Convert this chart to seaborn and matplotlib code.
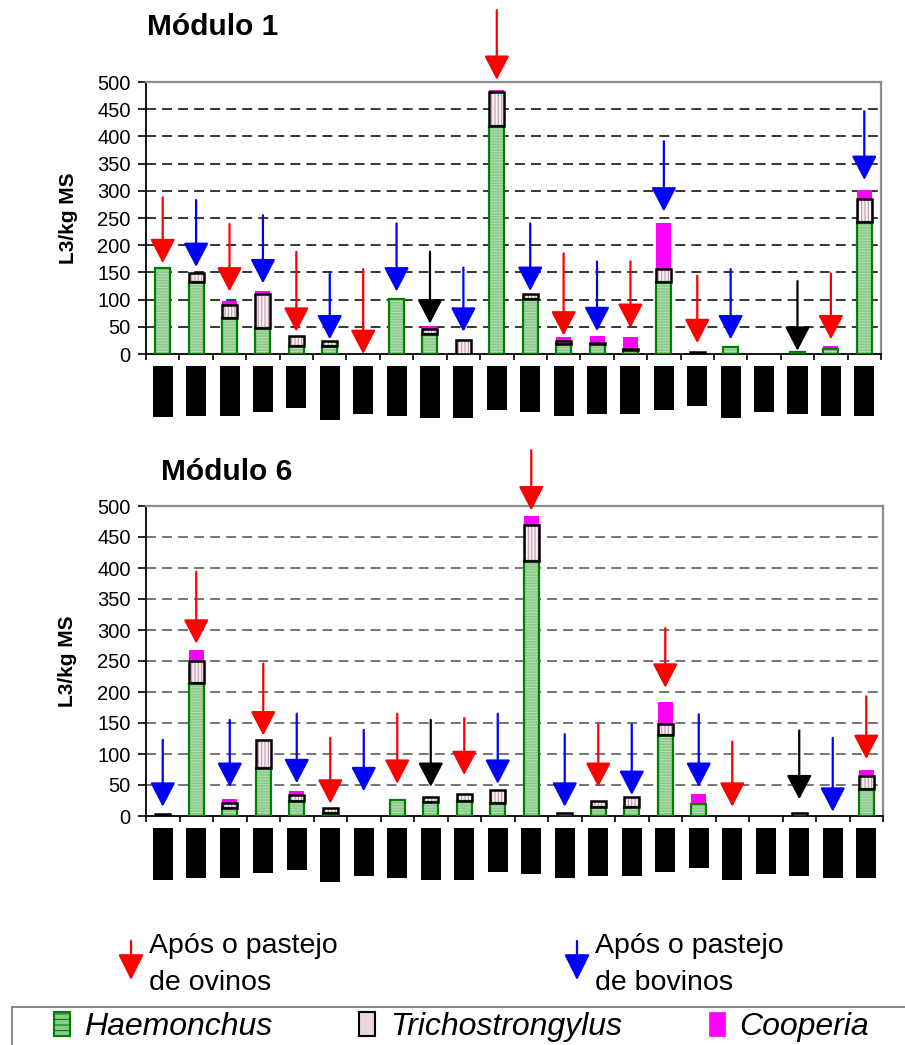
import numpy as np
import pandas as pd
import matplotlib
matplotlib.use("Agg")
import matplotlib.pyplot as plt
import matplotlib.transforms as mtransforms
from matplotlib.patches import Rectangle, Patch, FancyArrowPatch
import seaborn as sns

# ---------------- data ----------------
categories = list(range(22))

# Módulo 1
m1_haemonchus = [159, 132, 66, 48, 14, 14, 0, 101, 37, 0, 420, 102, 18, 18, 7, 132, 0, 12, 0, 4, 9, 243]
m1_trichostrongylus = [0, 16, 24, 62, 20, 9, 0, 0, 9, 26, 61, 8, 5, 2, 2, 24, 4, 0, 0, 0, 0, 42]
m1_cooperia = [0, 0, 7, 6, 0, 0, 0, 0, 6, 0, 5, 0, 8, 14, 22, 84, 0, 0, 0, 0, 6, 17]
m1_arrow_color = ["red", "blue", "red", "blue", "red", "blue", "red", "blue", "black", "blue", "red",
                  "blue", "red", "blue", "red", "blue", "red", "blue", None, "black", "red", "blue"]
m1_arrow_tail = [288, 283, 239, 255, 188, 148, 156, 240, 188, 159, 632,
                 240, 185, 170, 170, 391, 144, 156, None, 134, 148, 446]
m1_arrow_tip = [167, 160, 115, 130, 41, 27, 0, 115, 56, 41, 504,
                116, 34, 42, 48, 262, 20, 27, None, 6, 27, 320]

# Módulo 6
m6_haemonchus = [0, 215, 13, 77, 25, 5, 0, 26, 23, 24, 21, 412, 0, 15, 15, 131, 19, 0, 0, 0, 0, 43]
m6_trichostrongylus = [4, 35, 8, 46, 9, 8, 0, 0, 7, 12, 21, 58, 5, 9, 16, 18, 0, 0, 0, 5, 0, 22]
m6_cooperia = [0, 18, 6, 0, 6, 0, 0, 0, 0, 0, 0, 14, 0, 0, 0, 35, 16, 0, 0, 0, 0, 9]
m6_arrow_color = ["blue", "red", "blue", "red", "blue", "red", "blue", "red", "black", "red", "blue",
                  "red", "blue", "red", "blue", "red", "blue", "red", None, "black", "blue", "red"]
m6_arrow_tail = [123, 394, 155, 246, 165, 126, 139, 165, 155, 158, 165,
                 590, 132, 148, 148, 303, 164, 120, None, 138, 126, 193]
m6_arrow_tip = [15, 278, 47, 130, 53, 20, 40, 52, 47, 66, 52,
                493, 15, 47, 34, 207, 47, 15, None, 27, 7, 92]

yticks = [0, 50, 100, 150, 200, 250, 300, 350, 400, 450, 500]
panel_titles = ["Módulo 1", "Módulo 6"]
ylabel_text = "L3/kg MS"
species_names = ["Haemonchus", "Trichostrongylus", "Cooperia"]
arrow_legend = ["Após o pastejo", "de ovinos", "Após o pastejo", "de bovinos"]

# ---------------- style ----------------
W, H = 905, 1045
FONT = "Liberation Sans"
sns.set_theme(style="white")
plt.rcParams["font.family"] = [FONT, "DejaVu Sans"]
plt.rcParams["text.color"] = "black"
plt.rcParams["axes.labelcolor"] = "black"
plt.rcParams["xtick.color"] = "black"
plt.rcParams["ytick.color"] = "black"
plt.rcParams["hatch.linewidth"] = 0.8

GREEN_FACE = "#8cc98c"
GREEN_HATCH = "#b0dcb0"
GREEN_EDGE = "#008000"
PINK_FACE = "#fbf1f6"
PINK_HATCH = "#c496ac"
MAGENTA = "#ff00ff"
ARROW_COLORS = {"red": "#ff0000", "blue": "#0000ff", "black": "#000000"}

fig = plt.figure(figsize=(W / 100, H / 100), dpi=100)


def px_rect(left, top, right, bottom):
    return [left / W, 1 - bottom / H, (right - left) / W, (bottom - top) / H]


ax1 = fig.add_axes(px_rect(146, 82, 881, 354))
ax2 = fig.add_axes(px_rect(146, 506, 883, 816))


def hide_zero(ax, start):
    for p in ax.patches[start:]:
        if p.get_height() == 0:
            p.set_visible(False)


def layer(ax, vals, bottom, face, hatch, hatch_col, edge, lw):
    vals = np.asarray(vals, dtype=float)
    bottom = np.asarray(bottom, dtype=float)
    df = pd.DataFrame({"cat": categories, "v": vals})
    n0 = len(ax.patches)
    sns.barplot(data=df, x="cat", y="v", ax=ax, color=face, saturation=1, width=0.45,
                errorbar=None, bottom=bottom, edgecolor=hatch_col if hatch else face,
                hatch=hatch, linewidth=0, zorder=3)
    hide_zero(ax, n0)
    if edge is not None:
        n1 = len(ax.patches)
        sns.barplot(data=df, x="cat", y="v", ax=ax, color=edge, fill=False, saturation=1,
                    width=0.45, errorbar=None, bottom=bottom, linewidth=lw, zorder=4)
        hide_zero(ax, n1)


def panel(ax, haem, trich, coop, acol, atail, atip, block_bottoms, block_top, grid_col):
    haem = np.asarray(haem, float)
    trich = np.asarray(trich, float)
    coop = np.asarray(coop, float)
    layer(ax, haem, np.zeros_like(haem), GREEN_FACE, "------", GREEN_HATCH, GREEN_EDGE, 1.6)
    layer(ax, trich, haem, PINK_FACE, "|||||", PINK_HATCH, "black", 1.8)
    layer(ax, coop, haem + trich, MAGENTA, None, None, None, 0)

    ax.set_ylim(0, 500)
    ax.set_xlim(-0.5, 21.5)
    ax.set_yticks(yticks)
    ax.set_yticklabels([str(t) for t in yticks], fontsize=14.5, color="black")
    ax.set_xticks(categories)
    ax.set_xticklabels([""] * len(categories))
    ax.set_xticks(np.arange(-0.5, 22, 1.0), minor=True)
    ax.tick_params(axis="x", which="major", length=0)
    ax.tick_params(axis="x", which="minor", direction="out", length=4, width=1.2,
                   color="black", bottom=True)
    ax.tick_params(axis="y", which="major", direction="out", length=6, width=1.2,
                   color="black", left=True, pad=5)
    ax.set_xlabel("")
    ax.set_ylabel(ylabel_text, fontsize=15, fontweight="bold", color="black")
    ax.yaxis.set_label_coords(-0.093, 0.5)

    for y in yticks[1:-1]:
        ax.axhline(y, color=grid_col, lw=1.1, linestyle=(0, (6.5, 4)), zorder=1)

    for s in ["left", "bottom"]:
        ax.spines[s].set_color("black")
        ax.spines[s].set_linewidth(1.3)
        ax.spines[s].set_visible(True)
    for s in ["top", "right"]:
        ax.spines[s].set_color("#8c8c8c")
        ax.spines[s].set_linewidth(1.6)
        ax.spines[s].set_visible(True)
    ax.set_facecolor("white")

    for x, c, t0, t1 in zip(categories, acol, atail, atip):
        if c is None:
            continue
        ax.annotate("", xy=(x, t1), xytext=(x, t0), xycoords="data", textcoords="data",
                    annotation_clip=False, zorder=6,
                    arrowprops=dict(arrowstyle="-|>,head_length=15,head_width=7.8",
                                    mutation_scale=1, color=ARROW_COLORS[c], lw=1.6,
                                    shrinkA=0, shrinkB=0))

    trans = mtransforms.blended_transform_factory(ax.transData, fig.transFigure)
    for x, b in zip(categories, block_bottoms):
        r = Rectangle((x - 0.3, 1 - b / H), 0.6, (b - block_top) / H, transform=trans,
                      facecolor="black", edgecolor="none", clip_on=False)
        ax.add_artist(r)


top_blocks = [417, 416, 416, 412, 408, 420, 414, 416, 418, 418, 410, 412,
              416, 414, 414, 410, 406, 418, 412, 414, 416, 416]
bot_blocks = [880, 878, 878, 873, 870, 882, 876, 878, 880, 880, 872, 874,
              878, 876, 876, 872, 868, 880, 874, 876, 878, 878]

panel(ax1, m1_haemonchus, m1_trichostrongylus, m1_cooperia, m1_arrow_color,
      m1_arrow_tail, m1_arrow_tip, top_blocks, 366, "black")
panel(ax2, m6_haemonchus, m6_trichostrongylus, m6_cooperia, m6_arrow_color,
      m6_arrow_tail, m6_arrow_tip, bot_blocks, 828, "#505050")

fig.text(147 / W, 1 - 27 / H, panel_titles[0], fontsize=21.5, fontweight="bold", va="center", ha="left")
fig.text(161 / W, 1 - 472 / H, panel_titles[1], fontsize=21.5, fontweight="bold", va="center", ha="left")

for xa, col, t1, t2 in [(131, "red", arrow_legend[0], arrow_legend[1]),
                        (577, "blue", arrow_legend[2], arrow_legend[3])]:
    fig.add_artist(FancyArrowPatch((xa / W, 1 - 941 / H), (xa / W, 1 - 980 / H),
                                   transform=fig.transFigure,
                                   arrowstyle="-|>,head_length=16,head_width=8",
                                   mutation_scale=1, color=ARROW_COLORS[col], lw=1.6,
                                   shrinkA=0, shrinkB=0))
    fig.text((xa + 18) / W, 1 - 953 / H, t1, fontsize=20.5, va="baseline", ha="left")
    fig.text((xa + 18) / W, 1 - 990 / H, t2, fontsize=20.5, va="baseline", ha="left")

fig.add_artist(Rectangle((12 / W, 1 - 1060 / H), 900 / W, 53 / H, transform=fig.transFigure,
                         facecolor="none", edgecolor="#808080", linewidth=1.3))
handles = [
    Patch(facecolor=GREEN_FACE, edgecolor=GREEN_EDGE, hatch="---", linewidth=1.5),
    Patch(facecolor="#ead4df", edgecolor="black", linewidth=1.5),
    Patch(facecolor=MAGENTA, edgecolor=MAGENTA, linewidth=0.5),
]
leg = fig.legend(handles, species_names, loc="center left", bbox_to_anchor=(54 / W, 1 - 1027 / H),
                 bbox_transform=fig.transFigure, ncol=3, frameon=False,
                 borderaxespad=0, borderpad=0, handlelength=0.5, handleheight=0.8,
                 handletextpad=0.45, columnspacing=2.72,
                 prop={"family": FONT, "style": "italic", "size": 23})

fig.savefig("out.png", dpi=100, facecolor="white")
